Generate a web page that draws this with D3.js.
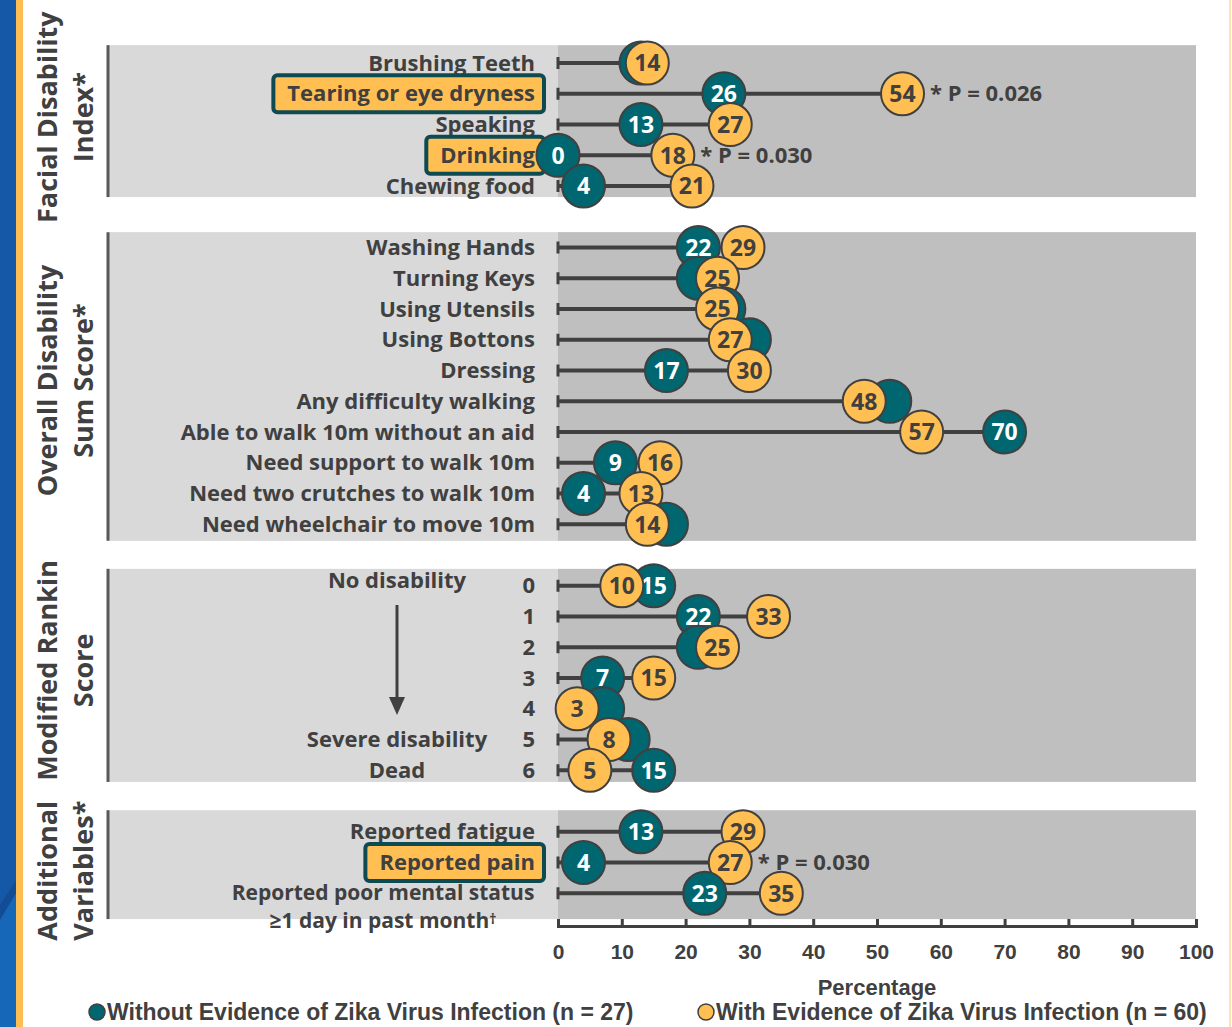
<!DOCTYPE html>
<html>
<head>
<meta charset="utf-8">
<script src="https://cdn.jsdelivr.net/npm/d3@7"></script>
<style>
  body { margin: 0; background: #fff; }
  svg { display: block; }
</style>
</head>
<body>
<svg id="chart" width="1232" height="1027"></svg>
<script>
// ---- Data: percentages by outcome, for each comparison group ----
const groupTitles = [
  ["Facial Disability", "Index*"],
  ["Overall Disability", "Sum Score*"],
  ["Modified Rankin", "Score"],
  ["Additional", "Variables*"]
];

const facialLabels = ["Brushing Teeth", "Tearing or eye dryness", "Speaking", "Drinking", "Chewing food"];
const facialWithout = [13, 26, 13, 0, 4];
const facialWith = [14, 54, 27, 18, 21];
const facialP = [null, "0.026", null, "0.030", null];

const overallLabels = ["Washing Hands", "Turning Keys", "Using Utensils", "Using Bottons", "Dressing",
  "Any difficulty walking", "Able to walk 10m without an aid ", "Need support to walk 10m",
  "Need two crutches to walk 10m", "Need wheelchair to move 10m"];
const overallWithout = [22, 22, 26, 30, 17, 52, 70, 9, 4, 17];
const overallWith = [29, 25, 25, 27, 30, 48, 57, 16, 13, 14];
const overallP = [null, null, null, null, null, null, null, null, null, null];

const rankinLabels = ["0", "1", "2", "3", "4", "5", "6"];
const rankinWithout = [15, 22, 22, 7, 7, 11, 15];
const rankinWith = [10, 33, 25, 15, 3, 8, 5];
const rankinP = [null, null, null, null, null, null, null];
const rankinNoteRows = [0, 5, 6];
const rankinNotes = ["No disability", "Severe disability", "Dead"];

const additionalLabels = ["Reported fatigue", "Reported pain", "Reported poor mental status\n\u22651 day in past month\u2020"];
const additionalWithout = [13, 4, 23];
const additionalWith = [29, 27, 35];
const additionalP = [null, "0.030", null];

const highlighted = ["Tearing or eye dryness", "Drinking", "Reported pain"];

const xTicks = [0, 10, 20, 30, 40, 50, 60, 70, 80, 90, 100];
const legendLabels = ["Without Evidence of Zika Virus Infection (n = 27)", "With Evidence of Zika Virus Infection (n = 60)"];

// ---- Styling ----
const TEAL = "#00666f";
const GOLD = "#ffbf52";
const INK = "#404040";
const LIGHT_PANEL = "#d9d9d9";
const DARK_PANEL = "#bfbfbf";
const LABEL_FONT = "'Open Sans', 'Noto Sans', sans-serif";
const ARIAL = "'Liberation Sans', Arial, sans-serif";
const LABEL_SIZE = 22;
const R = 21.5;

// Panels laid out on a shared row-slot grid (gaps between panels are empty slots)
const panels = [
  { title: groupTitles[0], labels: facialLabels, without: facialWithout, with: facialWith, p: facialP, slot0: 0, pad: [0.58, 0.36], titleShift: -4 },
  { title: groupTitles[1], labels: overallLabels, without: overallWithout, with: overallWith, p: overallP, slot0: 6, pad: [0.5, 0.54], titleShift: -6 },
  { title: groupTitles[2], labels: rankinLabels, without: rankinWithout, with: rankinWith, p: rankinP, slot0: 17, pad: [0.55, 0.38], titleShift: -5 },
  { title: groupTitles[3], labels: additionalLabels, without: additionalWithout, with: additionalWith, p: additionalP, slot0: 25, pad: [0.7, 0.84], titleShift: 6 }
];

const svg = d3.select("#chart");

const x = d3.scaleLinear().domain([0, 100]).range([558, 1196]);
const y = d3.scaleLinear().domain([0, 27]).range([63, 893.25]);
const panelLeft = 108;
const labelRight = 535;

// Decorative side stripes
const deco = svg.append("g");
deco.append("rect").attr("x", 0).attr("y", 0).attr("width", 16).attr("height", 1027).attr("fill", "#1458a7");
deco.append("path").attr("d", "M0,905 L16,880 L16,1027 L0,1027 Z").attr("fill", "#1767b8");
deco.append("path").attr("d", "M0,905 L16,880 L16,893 L0,920 Z").attr("fill", "#124c95");
deco.append("rect").attr("x", 16).attr("y", 0).attr("width", 7).attr("height", 1027).attr("fill", "#fdbd52");
deco.append("rect").attr("x", 1229).attr("y", 0).attr("width", 2).attr("height", 1027).attr("fill", "#fbe3b8");

// Panel backgrounds and rotated group titles
panels.forEach(p => {
  const n = p.labels.length;
  p.top = y(p.slot0 - p.pad[0]);
  p.bottom = y(p.slot0 + n - 1 + p.pad[1]);
  const g = svg.append("g");
  g.append("rect").attr("x", panelLeft).attr("y", p.top)
    .attr("width", x(0) - panelLeft).attr("height", p.bottom - p.top).attr("fill", LIGHT_PANEL);
  g.append("rect").attr("x", x(0)).attr("y", p.top)
    .attr("width", x(100) - x(0)).attr("height", p.bottom - p.top).attr("fill", DARK_PANEL);
  g.append("line").attr("x1", panelLeft).attr("x2", panelLeft)
    .attr("y1", p.top).attr("y2", p.bottom).attr("stroke", "#595959").attr("stroke-width", 3);

  const cy = (p.top + p.bottom) / 2 + p.titleShift;
  p.title.forEach((t, i) => {
    svg.append("text")
      .attr("transform", `translate(${57 + i * 36},${cy}) rotate(-90)`)
      .attr("text-anchor", "middle")
      .attr("font-family", LABEL_FONT).attr("font-weight", 700).attr("font-size", 27)
      .attr("fill", INK).text(t);
  });
});

// Row labels
panels.forEach(p => {
  p.labels.forEach((lab, i) => {
    const yy = y(p.slot0 + i);
    const lines = lab.split("\n");
    if (lines.length > 1) {
      // two-line label, centred under the label column
      lines.forEach((ln, k) => {
        const t = svg.append("text").attr("text-anchor", "middle")
          .attr("x", 383).attr("y", yy - 1 + k * 28).attr("dy", "0.35em")
          .attr("font-family", LABEL_FONT).attr("font-weight", 700).attr("font-size", 21).attr("fill", INK);
        if (ln.endsWith("\u2020")) {
          t.append("tspan").text(ln.slice(0, -1));
          t.append("tspan").attr("dy", "-0.25em").attr("font-size", 14).text("\u2020");
        } else {
          t.text(ln);
        }
      });
      return;
    }
    const t = svg.append("text")
      .attr("x", labelRight).attr("y", yy).attr("dy", "0.35em")
      .attr("text-anchor", "end")
      .attr("font-family", LABEL_FONT).attr("font-weight", 700).attr("font-size", LABEL_SIZE)
      .attr("fill", INK).text(lab);
    if (highlighted.includes(lab)) {
      const bb = t.node().getBBox();
      svg.insert("rect", () => t.node())
        .attr("x", bb.x - 14).attr("y", yy - 18.5)
        .attr("width", 544 - (bb.x - 14)).attr("height", 37)
        .attr("rx", 4)
        .attr("fill", GOLD).attr("stroke", "#0d4a52").attr("stroke-width", 4);
    }
  });
});

// Modified Rankin scale notes and arrow
rankinNoteRows.forEach((r, i) => {
  svg.append("text").attr("x", 397).attr("y", y(panels[2].slot0 + r) - (r === 0 ? 5 : 0)).attr("dy", "0.35em")
    .attr("text-anchor", "middle")
    .attr("font-family", LABEL_FONT).attr("font-weight", 700).attr("font-size", LABEL_SIZE)
    .attr("fill", INK).text(rankinNotes[i]);
});
svg.append("line").attr("x1", 397).attr("x2", 397).attr("y1", 605).attr("y2", 700)
  .attr("stroke", INK).attr("stroke-width", 3);
svg.append("path").attr("d", "M389,697 L405,697 L397,715 Z").attr("fill", INK);

// Dumbbell rows
panels.forEach(p => {
  p.labels.forEach((lab, i) => {
    const yy = y(p.slot0 + i);
    const a = p.without[i], b = p.with[i];
    const g = svg.append("g");
    g.append("line").attr("x1", x(0)).attr("x2", x(Math.max(a, b)))
      .attr("y1", yy).attr("y2", yy).attr("stroke", INK).attr("stroke-width", 4);
    g.append("line").attr("x1", x(0)).attr("x2", x(0))
      .attr("y1", yy - 6).attr("y2", yy + 6).attr("stroke", INK).attr("stroke-width", 3);

    g.append("circle").attr("cx", x(a)).attr("cy", yy).attr("r", R)
      .attr("fill", TEAL).attr("stroke", INK).attr("stroke-width", 2);
    if (Math.abs(a - b) >= 5) {
      g.append("text").attr("x", x(a)).attr("y", yy).attr("dy", "0.36em")
        .attr("text-anchor", "middle")
        .attr("font-family", LABEL_FONT).attr("font-weight", 700).attr("font-size", 23)
        .attr("fill", "#fff").text(a);
    }
    g.append("circle").attr("cx", x(b)).attr("cy", yy).attr("r", R)
      .attr("fill", GOLD).attr("stroke", INK).attr("stroke-width", 2);
    g.append("text").attr("x", x(b)).attr("y", yy).attr("dy", "0.36em")
      .attr("text-anchor", "middle")
      .attr("font-family", LABEL_FONT).attr("font-weight", 700).attr("font-size", 23)
      .attr("fill", INK).text(b);

    if (p.p[i]) {
      g.append("text").attr("x", x(b) + R + 6).attr("y", yy).attr("dy", "0.35em")
        .attr("font-family", LABEL_FONT).attr("font-weight", 700).attr("font-size", 22)
        .attr("fill", INK).text("* P = " + p.p[i]);
    }
  });
});

// X axis
const axisY = 926;
const axis = svg.append("g").attr("transform", `translate(0,${axisY})`)
  .call(d3.axisBottom(x).tickValues(xTicks).tickSize(-7).tickSizeOuter(-7).tickPadding(18));
axis.select(".domain").attr("stroke", INK).attr("stroke-width", 3);
axis.selectAll(".tick line").attr("stroke", INK).attr("stroke-width", 3);
axis.selectAll(".tick text")
  .attr("font-family", ARIAL).attr("font-weight", 700).attr("font-size", 21).attr("fill", INK);

svg.append("text").attr("x", (x(0) + x(100)) / 2).attr("y", 995)
  .attr("text-anchor", "middle")
  .attr("font-family", ARIAL).attr("font-weight", 700).attr("font-size", 22)
  .attr("fill", INK).text("Percentage");

// Legend
const legendX = [97, 706];
const legendFill = [TEAL, GOLD];
legendLabels.forEach((lab, i) => {
  svg.append("circle").attr("cx", legendX[i]).attr("cy", 1012).attr("r", 8)
    .attr("fill", legendFill[i]).attr("stroke", INK).attr("stroke-width", 1.5);
  svg.append("text").attr("x", legendX[i] + 10).attr("y", 1020)
    .attr("font-family", ARIAL).attr("font-weight", 700).attr("font-size", 23)
    .attr("fill", INK).text(lab);
});
</script>
</body>
</html>
